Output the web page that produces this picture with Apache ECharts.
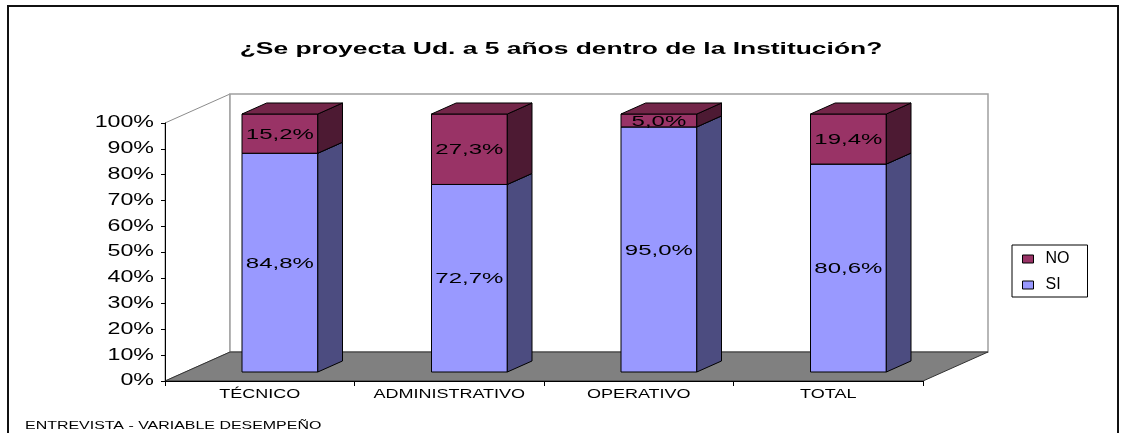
<!DOCTYPE html>
<html>
<head>
<meta charset="utf-8">
<script src="https://cdn.jsdelivr.net/npm/echarts@6/dist/echarts.min.js"></script>
<style>
  html, body { margin: 0; padding: 0; background: #fff; }
  #chart { width: 1131px; height: 433px; }
</style>
</head>
<body>
<div id="chart"></div>
<script>
// datos
const categorias = ['TÉCNICO', 'ADMINISTRATIVO', 'OPERATIVO', 'TOTAL'];
const si = [84.8, 72.7, 95.0, 80.6];
const no = [15.2, 27.3, 5.0, 19.4];
const yTicks = [0, 10, 20, 30, 40, 50, 60, 70, 80, 90, 100];

const FONT = '"Liberation Sans", Arial, sans-serif';
// profundidad de las paredes y de las barras
const WALL_DX = 65, WALL_DY = -29;
const BAR_F = 0.31, BAR_DEPTH = 0.38;

const chart = echarts.init(document.getElementById('chart'));

function fmt(v) {
    return v.toFixed(1).replace('.', ',') + '%';
}

function barRender(colors) {
    return function (params, api) {
        const i = api.value(0), base = api.value(1), val = api.value(2);
        const c0 = api.coord([i, base]);
        const c1 = api.coord([i, base + val]);
        const bw = api.size([1, 0])[0] * 0.4;
        const ddx = WALL_DX * BAR_DEPTH, ddy = WALL_DY * BAR_DEPTH;
        const x0 = c0[0] - bw / 2 + WALL_DX * BAR_F;
        const top = c1[1] + WALL_DY * BAR_F;
        const bottom = c0[1] + WALL_DY * BAR_F;
        const edge = { stroke: '#000', lineWidth: 1 };
        return {
            type: 'group',
            children: [
                {
                    type: 'rect',
                    shape: { x: x0, y: top, width: bw, height: bottom - top },
                    style: Object.assign({ fill: colors[0] }, edge)
                },
                {
                    type: 'polygon',
                    shape: { points: [[x0 + bw, top], [x0 + bw + ddx, top + ddy], [x0 + bw + ddx, bottom + ddy], [x0 + bw, bottom]] },
                    style: Object.assign({ fill: colors[1] }, edge)
                },
                {
                    type: 'polygon',
                    shape: { points: [[x0, top], [x0 + ddx, top + ddy], [x0 + bw + ddx, top + ddy], [x0 + bw, top]] },
                    style: Object.assign({ fill: colors[2] }, edge)
                },
                {
                    type: 'text',
                    x: x0 + bw / 2,
                    y: (top + bottom) / 2 + 1,
                    scaleX: 1.6,
                    style: {
                        text: fmt(val),
                        font: '15px ' + FONT,
                        fill: '#000',
                        align: 'center', verticalAlign: 'middle',
                        textAlign: 'center', textVerticalAlign: 'middle'
                    }
                }
            ]
        };
    };
}

const option = {
    animation: false,
    backgroundColor: '#fff',
    grid: { left: 165, top: 123, right: 208, bottom: 52 },
    legend: {
        data: ['NO', 'SI'],
        orient: 'vertical',
        left: 1012,
        top: 245,
        padding: [6, 18, 4, 10],
        itemWidth: 11,
        itemHeight: 8,
        itemGap: 10,
        borderColor: '#000',
        borderWidth: 1,
        selectedMode: false,
        icon: 'rect',
        itemStyle: { borderColor: '#000', borderWidth: 1 },
        textStyle: { fontSize: 16, lineHeight: 16, color: '#000', fontFamily: FONT, padding: [0, 0, 0, 7] }
    },
    xAxis: {
        type: 'category',
        data: categorias,
        boundaryGap: true,
        axisLine: { lineStyle: { color: '#000', width: 1 } },
        axisTick: { show: true, length: 5, lineStyle: { color: '#000' } },
        axisLabel: { show: false },
        splitLine: { show: false }
    },
    yAxis: {
        type: 'value',
        min: 0,
        max: 100,
        interval: 10,
        axisLine: { show: true, lineStyle: { color: '#000', width: 1 } },
        axisTick: { show: true, length: 4, lineStyle: { color: '#000' } },
        axisLabel: { show: false },
        splitLine: { show: false }
    },
    graphic: [
        {
            type: 'rect',
            shape: { x: 8, y: 6, width: 1110, height: 500 },
            style: { fill: 'none', stroke: '#111', lineWidth: 2 }
        },
        {
            type: 'text',
            x: 561, y: 50,
            scaleX: 1.65,
            style: {
                text: '¿Se proyecta Ud. a 5 años dentro de la Institución?',
                font: 'bold 16px ' + FONT,
                fill: '#000',
                align: 'center', verticalAlign: 'middle',
                textAlign: 'center', textVerticalAlign: 'middle'
            }
        },
        {
            type: 'text',
            x: 25, y: 426,
            scaleX: 1.45,
            style: {
                text: 'ENTREVISTA - VARIABLE DESEMPEÑO',
                font: '11px ' + FONT,
                fill: '#000',
                align: 'left', verticalAlign: 'middle',
                textAlign: 'left', textVerticalAlign: 'middle'
            }
        }
    ],
    series: [
        {
            // paredes y piso
            name: 'paredes',
            type: 'custom',
            z: -1,
            silent: true,
            clip: false,
            data: [[0, 0]],
            renderItem: function (params) {
                const cs = params.coordSys;
                const x = cs.x, y = cs.y, w = cs.width, h = cs.height;
                return {
                    type: 'group',
                    children: [
                        {
                            type: 'polygon',
                            shape: { points: [[x, y], [x + WALL_DX, y + WALL_DY], [x + WALL_DX, y + h + WALL_DY], [x, y + h]] },
                            style: { fill: '#fff', stroke: '#8c8c8c', lineWidth: 1 }
                        },
                        {
                            type: 'rect',
                            shape: { x: x + WALL_DX, y: y + WALL_DY, width: w, height: h },
                            style: { fill: '#fff', stroke: '#a0a0a0', lineWidth: 1.5 }
                        },
                        {
                            type: 'polygon',
                            shape: { points: [[x, y + h], [x + w, y + h], [x + w + WALL_DX, y + h + WALL_DY], [x + WALL_DX, y + h + WALL_DY]] },
                            style: { fill: '#808080', stroke: '#333', lineWidth: 1 }
                        }
                    ]
                };
            }
        },
        {
            name: 'SI',
            type: 'custom',
            clip: false,
            itemStyle: { color: '#9999FF' },
            data: si.map((v, i) => [i, 0, v]),
            renderItem: barRender(['#9999FF', '#4C4C80', '#7373BF'])
        },
        {
            name: 'NO',
            type: 'custom',
            clip: false,
            itemStyle: { color: '#993366' },
            data: no.map((v, i) => [i, si[i], v]),
            renderItem: barRender(['#993366', '#4D1A33', '#732649'])
        },
        {
            // etiquetas del eje y
            name: 'ejeY',
            type: 'custom',
            silent: true,
            clip: false,
            data: yTicks.map(v => [0, v]),
            renderItem: function (params, api) {
                const p = api.coord([0, api.value(1)]);
                return {
                    type: 'text',
                    x: params.coordSys.x - 11,
                    y: p[1],
                    scaleX: 1.45,
                    style: {
                        text: api.value(1) + '%',
                        font: '16px ' + FONT,
                        fill: '#000',
                        align: 'right', verticalAlign: 'middle',
                        textAlign: 'right', textVerticalAlign: 'middle'
                    }
                };
            }
        },
        {
            // etiquetas del eje x
            name: 'ejeX',
            type: 'custom',
            silent: true,
            clip: false,
            data: categorias.map((c, i) => [i, 0]),
            renderItem: function (params, api) {
                const p = api.coord([api.value(0), 0]);
                return {
                    type: 'text',
                    x: p[0],
                    y: p[1] + 8,
                    scaleX: 1.5,
                    style: {
                        text: categorias[params.dataIndex],
                        font: '12px ' + FONT,
                        fill: '#000',
                        align: 'center', verticalAlign: 'top',
                        textAlign: 'center', textVerticalAlign: 'top'
                    }
                };
            }
        }
    ]
};

chart.setOption(option);
</script>
</body>
</html>
